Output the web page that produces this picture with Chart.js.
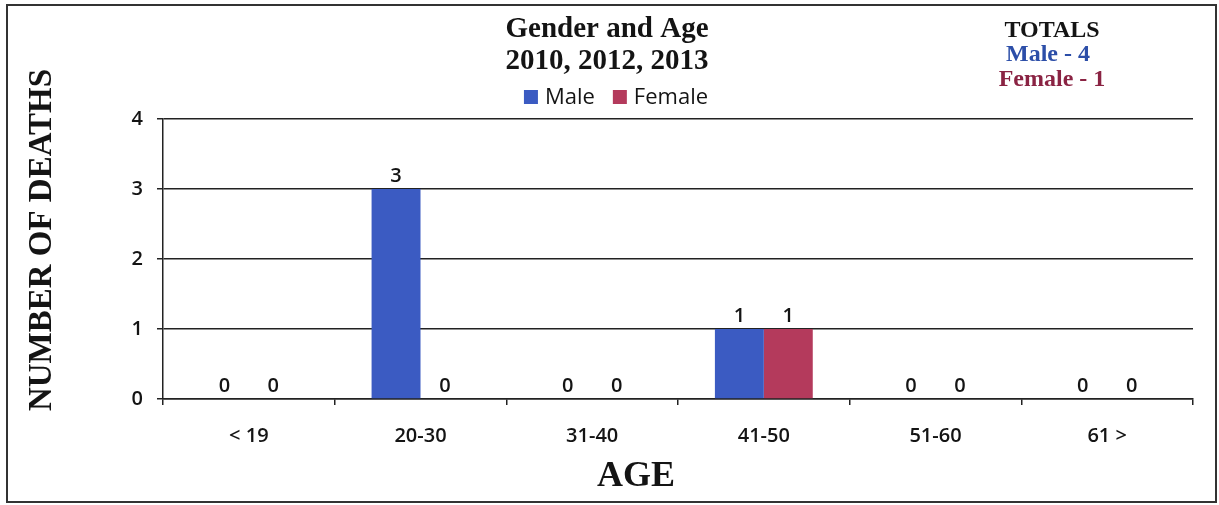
<!DOCTYPE html>
<html>
<head>
<meta charset="utf-8">
<script src="https://cdn.jsdelivr.net/npm/chart.js@4.4.1/dist/chart.umd.min.js"></script>
<style>
  html, body { margin: 0; padding: 0; background: #ffffff; }
  #wrap { width: 1219px; height: 505px; position: relative; }
</style>
</head>
<body>
<div id="wrap"><canvas id="c" width="1219" height="505"></canvas></div>
<script>
// ---- data ----
const categories = ['< 19', '20-30', '31-40', '41-50', '51-60', '61 >'];
const maleDeaths = [0, 3, 0, 1, 0, 0];
const femaleDeaths = [0, 0, 0, 1, 0, 0];
const yTickValues = [0, 1, 2, 3, 4];
const seriesNames = ['Male', 'Female'];
const titleLines = ['Gender and Age', '2010, 2012, 2013'];
const yAxisTitle = 'NUMBER OF DEATHS';
const xAxisTitle = 'AGE';
const totalsHeading = 'TOTALS';

// ---- styles ----
const maleColor = '#3b5bc2';
const femaleColor = '#b43a5c';
const maleTextColor = '#2c4ea8';
const femaleTextColor = '#8a2343';
const ink = '#141414';
const serif = '"Liberation Serif", "Times New Roman", serif';
const sans = '"Open Sans", "Noto Sans", sans-serif';

const sum = a => a.reduce((s, v) => s + v, 0);

const decorPlugin = {
  id: 'decor',
  afterDatasetsDraw(chart) {
    const ctx = chart.ctx;
    ctx.save();
    ctx.font = '600 20px ' + sans;
    ctx.fillStyle = ink;
    ctx.textAlign = 'center';
    ctx.textBaseline = 'bottom';
    chart.data.datasets.forEach((ds, di) => {
      const meta = chart.getDatasetMeta(di);
      meta.data.forEach((bar, i) => {
        ctx.fillText(String(ds.data[i]), bar.x, bar.y - 3);
      });
    });
    ctx.restore();
  },
  afterDraw(chart) {
    const ctx = chart.ctx;
    ctx.save();
    // frame
    ctx.strokeStyle = '#333';
    ctx.lineWidth = 2;
    ctx.strokeRect(7, 5, 1209, 497);

    // title
    ctx.fillStyle = ink;
    ctx.textAlign = 'center';
    ctx.textBaseline = 'middle';
    ctx.font = 'bold 29px ' + serif;
    ctx.fillText(titleLines[0], 607, 30);
    ctx.fillText(titleLines[1], 607, 62);

    // legend
    ctx.font = '22px ' + sans;
    const colors = [maleColor, femaleColor];
    const box = 14, gap = 7, itemGap = 18;
    const widths = seriesNames.map(n => box + gap + ctx.measureText(n).width);
    const total = widths[0] + itemGap + widths[1];
    let x = 616 - total / 2;
    ctx.textAlign = 'left';
    seriesNames.forEach((n, i) => {
      ctx.fillStyle = colors[i];
      ctx.fillRect(x, 90, box, box);
      ctx.fillStyle = ink;
      ctx.fillText(n, x + box + gap, 98);
      x += widths[i] + itemGap;
    });

    // totals
    ctx.textAlign = 'center';
    ctx.font = 'bold 24px ' + serif;
    ctx.fillStyle = ink;
    ctx.fillText(totalsHeading, 1052, 31);
    ctx.fillStyle = maleTextColor;
    ctx.fillText(seriesNames[0] + ' - ' + sum(maleDeaths), 1048, 55);
    ctx.fillStyle = femaleTextColor;
    ctx.fillText(seriesNames[1] + ' - ' + sum(femaleDeaths), 1052, 80);

    // axis titles
    ctx.fillStyle = ink;
    ctx.font = 'bold 33px ' + serif;
    ctx.save();
    ctx.translate(42, 240);
    ctx.rotate(-Math.PI / 2);
    ctx.fillText(yAxisTitle, 0, 0);
    ctx.restore();
    ctx.font = 'bold 36px ' + serif;
    ctx.fillText(xAxisTitle, 636, 477);
    ctx.restore();
  }
};

new Chart(document.getElementById('c'), {
  type: 'bar',
  data: {
    labels: categories,
    datasets: [
      { label: seriesNames[0], data: maleDeaths, backgroundColor: maleColor, borderWidth: 0,
        categoryPercentage: 0.57, barPercentage: 1.0 },
      { label: seriesNames[1], data: femaleDeaths, backgroundColor: femaleColor, borderWidth: 0,
        categoryPercentage: 0.57, barPercentage: 1.0 }
    ]
  },
  options: {
    responsive: false,
    animation: false,
    layout: { padding: { top: 119, right: 26, left: 0, bottom: 0 } },
    plugins: {
      legend: { display: false },
      title: { display: false },
      tooltip: { enabled: false }
    },
    scales: {
      x: {
        offset: true,
        grid: { display: true, drawOnChartArea: false, drawTicks: true, tickLength: 6, color: '#222', lineWidth: 1.5 },
        border: { display: true, color: '#222', width: 1.5 },
        ticks: { color: ink, font: { family: sans, size: 20, weight: '600' }, padding: 19, maxRotation: 0 },
        afterFit(scale) { scale.height = 106; }
      },
      y: {
        min: 0,
        max: 4,
        afterBuildTicks(scale) { scale.ticks = yTickValues.map(v => ({ value: v })); },
        grid: { color: '#222', lineWidth: 1.5, tickLength: 6, drawTicks: true },
        border: { display: true, color: '#222', width: 1.5 },
        ticks: { color: ink, font: { family: sans, size: 20, weight: '600' }, padding: 14 },
        afterFit(scale) { scale.width = 163; }
      }
    }
  },
  plugins: [decorPlugin]
});
</script>
</body>
</html>
